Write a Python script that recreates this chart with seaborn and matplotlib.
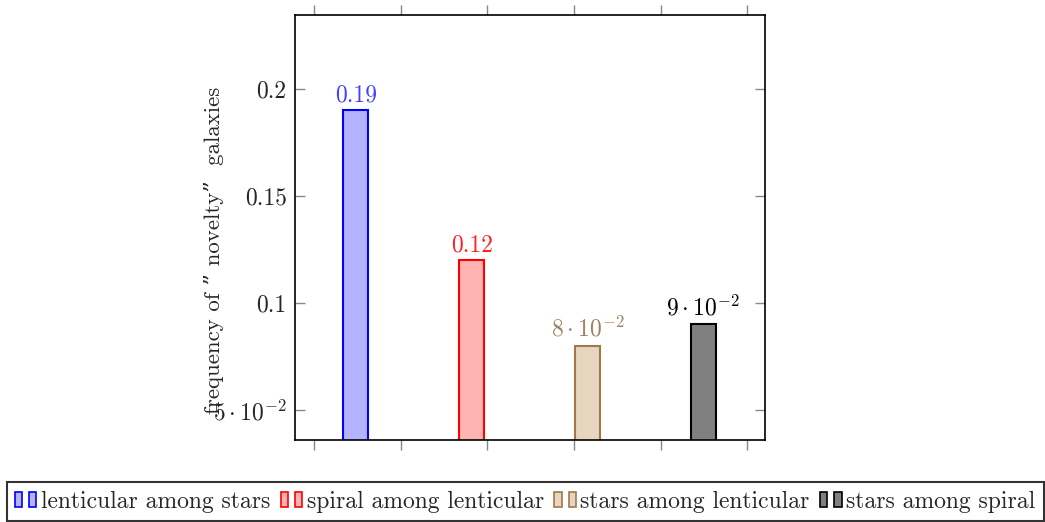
import matplotlib
matplotlib.use("Agg")
import matplotlib.pyplot as plt
import seaborn as sns
import pandas as pd
from matplotlib.patches import Rectangle
from matplotlib.legend_handler import HandlerTuple

# data
categories = ["lenticular among stars", "spiral among lenticular",
              "stars among lenticular", "stars among spiral"]
values = [0.19, 0.12, 0.08, 0.09]
value_labels = ["0.19", "0.12", r"$8\cdot10^{-2}$", r"$9\cdot10^{-2}$"]
fill_colors = ["#b3b3ff", "#ffb3b3", "#e6d5bf", "#808080"]
edge_colors = ["#0000ff", "#ff0000", "#a0784a", "#000000"]
label_colors = ["#4040ff", "#ff2020", "#a08060", "#000000"]
ytick_vals = [0.05, 0.1, 0.15, 0.2]
ytick_labels = [r"$5\cdot10^{-2}$", "0.1", "0.15", "0.2"]

sns.set_style("white")
plt.rcParams["font.family"] = ["cmr10", "DejaVu Serif"]
plt.rcParams["mathtext.fontset"] = "cm"
plt.rcParams["axes.unicode_minus"] = False

FS = 17

df = pd.DataFrame({"category": categories, "value": values})

fig = plt.figure(figsize=(10.45, 5.22), dpi=100)
ax = fig.add_axes([0.2823, 0.157, 0.4497, 0.8143])

sns.barplot(data=df, x="category", y="value", hue="category",
            palette=fill_colors, saturation=1, dodge=False, legend=False,
            width=0.215, linewidth=1.5, ax=ax)
for patch, ec in zip(ax.patches, edge_colors):
    patch.set_edgecolor(ec)

for cont, lab, col in zip(ax.containers, value_labels, label_colors):
    ax.bar_label(cont, labels=[lab], color=col, fontsize=FS, padding=3)

ax.set_xlim(-0.526, 3.534)
ax.set_ylim(0.036, 0.2346)
ax.set_xticks([-0.363 + 0.7487 * k for k in range(6)])
ax.set_xticklabels([])
ax.set_xlabel("")
ax.set_yticks(ytick_vals)
ax.set_yticklabels(ytick_labels, fontsize=FS)
ax.set_ylabel("frequency of \u201d novelty\u201d  galaxies", fontsize=16.5)
ax.yaxis.set_label_coords(-0.152, 0.447)

ax.tick_params(axis="x", direction="out", length=7, width=1, color="#888888",
               top=True, bottom=True)
ax.tick_params(axis="y", direction="in", length=7, width=1, color="#888888",
               left=True, right=True, pad=6)
for sp in ax.spines.values():
    sp.set_color("black")
    sp.set_linewidth(1.2)

handles = []
for fc, ec in zip(fill_colors, edge_colors):
    r1 = Rectangle((0, 0), 1, 1, facecolor=fc, edgecolor=ec, linewidth=1.2)
    r2 = Rectangle((0, 0), 1, 1, facecolor=fc, edgecolor=ec, linewidth=1.2)
    handles.append((r1, r2))

leg = fig.legend(handles, categories, ncol=4, loc="lower center",
                 bbox_to_anchor=(0.5025, 0.0), fontsize=FS,
                 handler_map={tuple: HandlerTuple(ndivide=None, pad=0.3)},
                 handlelength=0.9, handleheight=0.6, handletextpad=0.2,
                 columnspacing=0.45, frameon=True, fancybox=False,
                 borderpad=0.35, borderaxespad=0.05)
leg.get_frame().set_edgecolor("black")
leg.get_frame().set_linewidth(1.5)

fig.savefig("out.png", dpi=100)
